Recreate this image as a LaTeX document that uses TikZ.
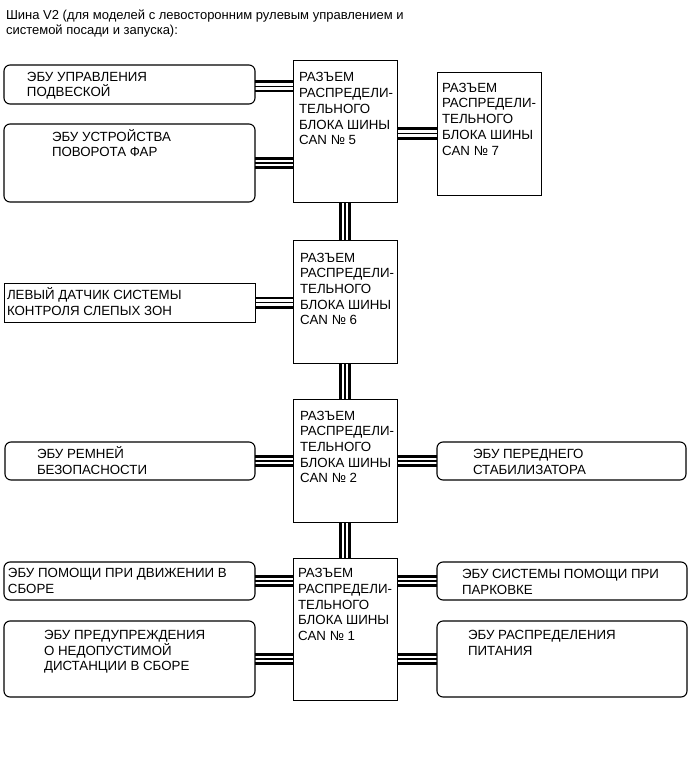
\documentclass[tikz,border=0pt]{standalone}
\usepackage{fontspec}
\setmainfont{Liberation Sans}
\usetikzlibrary{backgrounds}
\newcommand\mlt[1]{\vtop{\baselineskip=15.7pt\lineskiplimit=-20pt\lineskip=0pt\halign{##\hfil\cr#1\crcr}}}
\begin{document}
\begin{tikzpicture}[x=1pt,y=-1pt,
  every node/.style={inner sep=0pt,outer sep=0pt},
  canbox/.style={draw,line width=0.9pt,minimum width=104pt},
  ecu/.style={draw,rounded corners=6pt,line width=1.1pt,minimum height=38pt},
  plainbox/.style={draw,line width=1pt,minimum height=39pt},
  txt/.style={anchor=base west,font=\fontsize{13.3}{15.7}\selectfont},
  ttl/.style={anchor=base west,font=\fontsize{13}{15}\selectfont},
  bus/.style={line width=12pt,postaction={draw=white,line width=6.5pt},postaction={draw=black,line width=1.1pt}}
]
\useasboundingbox (0,0) rectangle (690,757);

% CAN junction connectors
\node[canbox,minimum height=142pt] (c5) at (345,131) {};
\node[canbox,minimum height=123pt] (c7) at (489,133.5) {};
\node[canbox,minimum height=123pt] (c6) at (345,301.5) {};
\node[canbox,minimum height=123pt] (c2) at (345,460.5) {};
\node[canbox,minimum height=142pt] (c1) at (345,629) {};

% ECUs
\node[ecu,minimum width=251pt,minimum height=39pt] (a) at (129.5,84.5) {};
\node[ecu,minimum width=251pt,minimum height=78pt] (b) at (129.5,163) {};
\node[plainbox,minimum width=251pt] (c) at (129.5,302.5) {};
\node[ecu,minimum width=250pt] (d) at (130,461) {};
\node[ecu,minimum width=249pt] (e) at (561.5,461) {};
\node[ecu,minimum width=251pt] (f) at (129.5,581) {};
\node[ecu,minimum width=251pt,minimum height=76pt] (g) at (129.5,659) {};
\node[ecu,minimum width=250pt] (h) at (562,581) {};
\node[ecu,minimum width=250pt,minimum height=76pt] (i) at (562,659) {};

% texts
\node[ttl] (title) at (6,20) {\vtop{\baselineskip=15pt\halign{#\hfil\cr Шина V2 (для моделей с левосторонним рулевым управлением и\cr системой посади и запуска):\crcr}}};
\node[txt] (ta) at (27,81.3) {\mlt{ЭБУ УПРАВЛЕНИЯ\cr ПОДВЕСКОЙ}};
\node[txt] (tb) at (52,141.3) {\mlt{ЭБУ УСТРОЙСТВА\cr ПОВОРОТА ФАР}};
\node[txt] (t5) at (299,82) {\mlt{РАЗЪЕМ\cr РАСПРЕДЕЛИ-\cr ТЕЛЬНОГО\cr БЛОКА ШИНЫ\cr CAN № 5}};
\node[txt] (t7) at (442,92.3) {\mlt{РАЗЪЕМ\cr РАСПРЕДЕЛИ-\cr ТЕЛЬНОГО\cr БЛОКА ШИНЫ\cr CAN № 7}};
\node[txt] (t6) at (300,262) {\mlt{РАЗЪЕМ\cr РАСПРЕДЕЛИ-\cr ТЕЛЬНОГО\cr БЛОКА ШИНЫ\cr CAN № 6}};
\node[txt] (tc) at (7,299.3) {\mlt{ЛЕВЫЙ ДАТЧИК СИСТЕМЫ\cr КОНТРОЛЯ СЛЕПЫХ ЗОН}};
\node[txt] (t2) at (300,420) {\mlt{РАЗЪЕМ\cr РАСПРЕДЕЛИ-\cr ТЕЛЬНОГО\cr БЛОКА ШИНЫ\cr CAN № 2}};
\node[txt] (td) at (37,458.3) {\mlt{ЭБУ РЕМНЕЙ\cr БЕЗОПАСНОСТИ}};
\node[txt] (te) at (473,458.6) {\mlt{ЭБУ ПЕРЕДНЕГО\cr СТАБИЛИЗАТОРА}};
\node[txt] (t1) at (298,577.6) {\mlt{РАЗЪЕМ\cr РАСПРЕДЕЛИ-\cr ТЕЛЬНОГО\cr БЛОКА ШИНЫ\cr CAN № 1}};
\node[txt] (tf) at (8,577.6) {\mlt{ЭБУ ПОМОЩИ ПРИ ДВИЖЕНИИ В\cr СБОРЕ}};
\node[txt] (tg) at (44,639.3) {\mlt{ЭБУ ПРЕДУПРЕЖДЕНИЯ\cr О НЕДОПУСТИМОЙ\cr ДИСТАНЦИИ В СБОРЕ}};
\node[txt] (th) at (462,578.6) {\mlt{ЭБУ СИСТЕМЫ ПОМОЩИ ПРИ\cr ПАРКОВКЕ}};
\node[txt] (ti) at (468,639.3) {\mlt{ЭБУ РАСПРЕДЕЛЕНИЯ\cr ПИТАНИЯ}};

% bus lines
\begin{scope}[on background layer]
\draw[bus] ([yshift=-2pt]a.east) -- ([yshift=-2pt]a.east -| c5.west);
\draw[bus] (b.east) -- (b.east -| c5.west);
\draw[bus] (c7.west -| c5.east) -- (c7.west);
\draw[bus] (c.east) -- (c.east -| c6.west);
\draw[bus] (d.east) -- (d.east -| c2.west);
\draw[bus] (e.west -| c2.east) -- (e.west);
\draw[bus] (f.east) -- (f.east -| c1.west);
\draw[bus] (g.east) -- (g.east -| c1.west);
\draw[bus] (h.west -| c1.east) -- (h.west);
\draw[bus] (i.west -| c1.east) -- (i.west);
\draw[bus] (c5.south) -- (c6.north);
\draw[bus] (c6.south) -- (c2.north);
\draw[bus] (c2.south) -- (c1.north);
\end{scope}
\end{tikzpicture}
\end{document}
